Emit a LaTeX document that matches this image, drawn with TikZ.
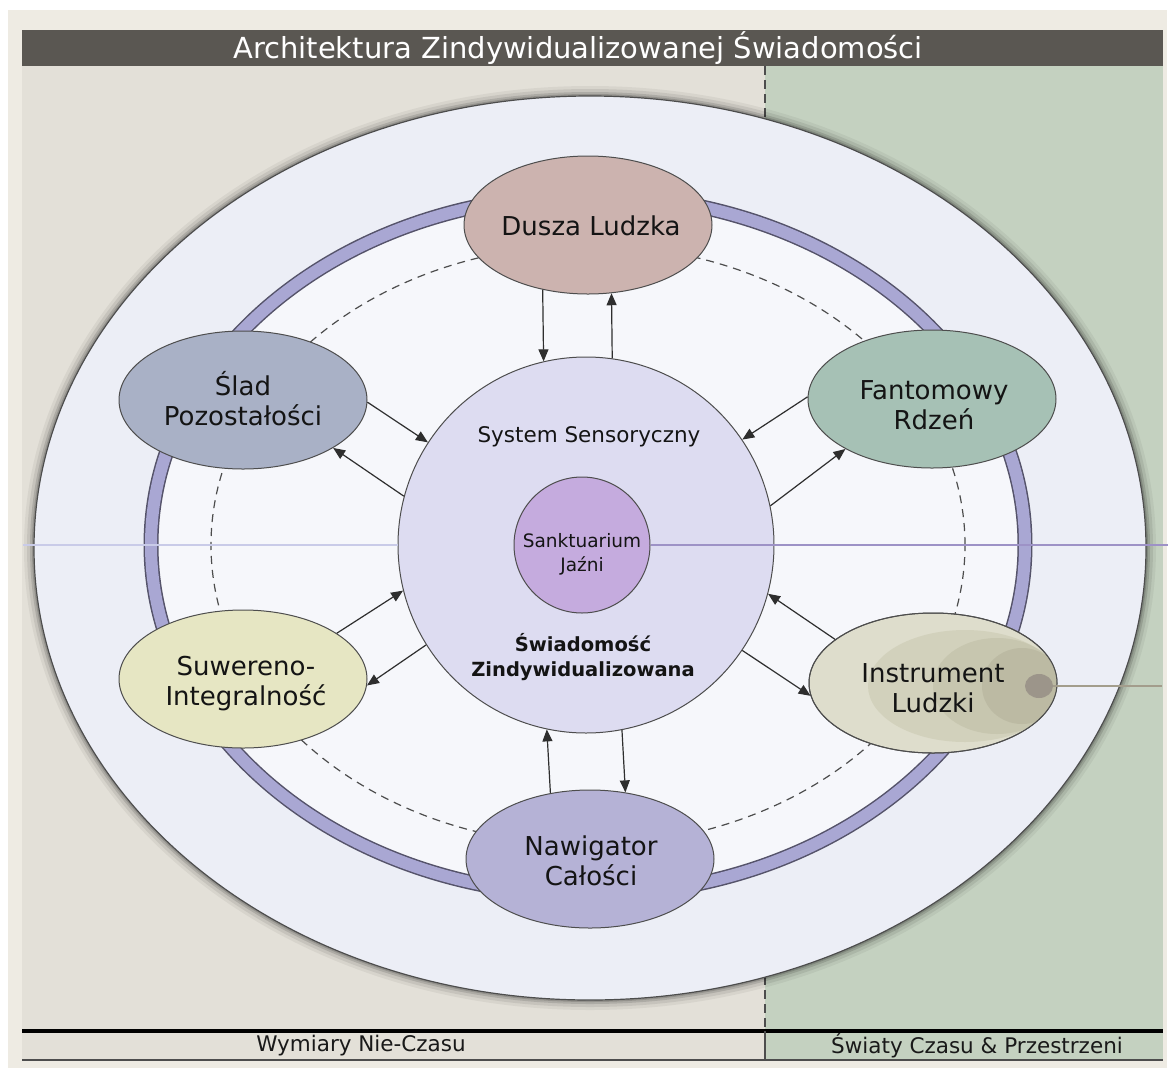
\documentclass[tikz,border=0pt]{standalone}
\usepackage{fontspec}
\setmainfont{DejaVu Sans}
\usetikzlibrary{arrows.meta,shapes.geometric,calc}
\definecolor{titlebar}{HTML}{5A5752}
\definecolor{cardbg}{HTML}{EEEBE3}
\definecolor{leftp}{HTML}{E3E0D8}
\definecolor{rightp}{HTML}{C4D1C0}
\definecolor{outerell}{HTML}{ECEEF6}
\definecolor{innerfill}{HTML}{F6F7FB}
\definecolor{ringc}{HTML}{A9A7D3}
\definecolor{ringedge}{HTML}{55536A}
\definecolor{edgec}{HTML}{4D4D4D}
\definecolor{sysc}{HTML}{DDDCF1}
\definecolor{sankc}{HTML}{C5ABDE}
\definecolor{duszac}{HTML}{CCB3AF}
\definecolor{fantc}{HTML}{A6C1B5}
\definecolor{nawc}{HTML}{B5B2D6}
\definecolor{suwc}{HTML}{E6E6C3}
\definecolor{sladc}{HTML}{A9B1C6}
\definecolor{instc}{HTML}{DEDDCC}
\definecolor{instca}{HTML}{D2D1BC}
\definecolor{instcb}{HTML}{C7C6AF}
\definecolor{instcc}{HTML}{BCBAA3}
\definecolor{dotc}{HTML}{9C958A}
\definecolor{dotline}{HTML}{A39D8C}
\definecolor{hlinel}{HTML}{C9CBE8}
\definecolor{hliner}{HTML}{9D92C6}
\definecolor{arrc}{HTML}{2E2E2E}
\begin{document}
\begin{tikzpicture}[x=1pt,y=-1pt,
  sat/.style={ellipse, draw=edgec, line width=1pt, minimum width=248pt, minimum height=138pt, inner sep=0pt},
  sattext/.style={align=center, text=black!92, inner sep=0pt, font=\fontsize{26}{30}\selectfont},
  systext/.style={align=center, text=black!92, inner sep=0pt},
  arr/.style={draw=arrc, line width=1.2pt, -{Triangle[length=12pt,width=10pt]}},
  lbl/.style={inner sep=0pt, text=black!90, font=\fontsize{21.5}{24}\selectfont}
]
\useasboundingbox (0,0) rectangle (1168,1072);
\fill[white] (0,0) rectangle (1168,1072);
% card
\fill[cardbg] (8,10) rectangle (1167,1068);
\fill[titlebar] (22,30) rectangle (1163,66);
\node[text=white, inner sep=0pt, font=\fontsize{29}{32}\selectfont] (title) at (578,48) {Architektura Zindywidualizowanej Świadomości};
\fill[leftp] (22,66) rectangle (765,1030);
\fill[rightp] (765,66) rectangle (1163,1030);
\draw[edgec, line width=1.2pt, dash pattern=on 9pt off 5pt] (765,66) -- (765,1030);
% bottom band
\fill[leftp] (22,1030) rectangle (765,1060);
\fill[rightp] (765,1030) rectangle (1163,1060);
\draw[black, line width=4pt] (22,1031) -- (1163,1031);
\draw[edgec, line width=1.5pt] (22,1060) -- (1163,1060);
\draw[edgec, line width=1.2pt] (765,1031) -- (765,1060);
\node[lbl] (wym) at (361,1046) {Wymiary Nie-Czasu};
\node[lbl] (swi) at (977,1046) {Światy Czasu \& Przestrzeni};
% outer ellipse with soft shadow
\foreach \s/\o in {10/0.05,7/0.08,4/0.12,2/0.15}{
  \fill[black, opacity=\o] (590,548) ellipse [x radius=556pt+\s pt, y radius=452pt+\s pt];
}
\filldraw[fill=outerell, draw=edgec, line width=1.2pt] (590,548) ellipse [x radius=556pt, y radius=452pt];
% ring
\fill[innerfill] (588,545) ellipse [x radius=437pt, y radius=350pt];
\draw[ringedge, line width=15pt] (588,545) ellipse [x radius=437pt, y radius=350pt];
\draw[ringc, line width=12pt] (588,545) ellipse [x radius=437pt, y radius=350pt];
% dashed ellipse
\draw[edgec, line width=1.2pt, dash pattern=on 8pt off 6pt] (588,545) ellipse [x radius=377pt, y radius=300pt];
% central circles
\node[circle, draw=edgec, line width=1pt, fill=sysc, minimum size=376pt, inner sep=0pt] (sys) at (586,545) {};
\coordinate (lstart) at (23,545);
\draw[hlinel, line width=1.5pt] (lstart) -- (sys.west);
\node[circle, draw=edgec, line width=1pt, fill=sankc, minimum size=136pt, inner sep=0pt] (sank) at (582,545) {};
\coordinate (rend) at (1168,545);
\draw[hliner, line width=1.5pt] (sank.east) -- (rend);
\node[systext, font=\fontsize{21.5}{25}\selectfont] (systxt) at (589,437) {System Sensoryczny};
\node[systext, font=\fontsize{18.5}{24}\selectfont] (sanktxt) at (582,554) {Sanktuarium\\Jaźni};
\node[systext, font=\bfseries\fontsize{19.5}{25}\selectfont] (swtxt) at (583,657) {Świadomość\\Zindywidualizowana};
% satellites
\node[sat, fill=duszac] (dusza) at (588,225) {};
\node[sat, fill=fantc] (fant) at (932,399) {};
\node[sat, fill=instc, minimum height=140pt] (instr) at (933,683) {};
\node[sat, fill=nawc] (nawig) at (590,859) {};
\node[sat, fill=suwc] (suw) at (243,679) {};
\node[sat, fill=sladc] (slad) at (243,400) {};
% instrument shading
\begin{scope}
  \clip (933,683) ellipse [x radius=123.5pt, y radius=69.5pt];
  \fill[instca] (965,686) ellipse [x radius=97pt, y radius=56pt];
  \fill[instcb] (997,686) ellipse [x radius=64pt, y radius=48pt];
  \fill[instcc] (1022,686) ellipse [x radius=40pt, y radius=38pt];
\end{scope}
\draw[edgec, line width=1pt] (instr.center) ellipse [x radius=124pt, y radius=70pt];
\node[ellipse, fill=dotc, minimum width=28pt, minimum height=24pt, inner sep=0pt] (dot) at (1039,686) {};
\coordinate (dotend) at (1162,686);
\draw[dotline, line width=2pt] (dot.east) -- (dotend);
% satellite texts
\node[sattext] (duszat) at (591,226) {Dusza Ludzka};
\node[sattext] (fantt) at (934,405) {Fantomowy\\Rdzeń};
\node[sattext] (instrt) at (933,688) {Instrument\\Ludzki};
\node[sattext] (nawigt) at (591,861) {Nawigator\\Całości};
\node[sattext] (suwt) at (246,684) {Suwereno-\\Integralność};
\node[sattext] (sladt) at (243,399) {Ślad\\Pozostałości};
% arrows
\draw[arr] (dusza.235) -- (sys.103.2);
\draw[arr] (sys.82.05) -- (dusza.289.5);
\draw[arr] (nawig.121.5) -- (sys.258.96);
\draw[arr] (sys.281.97) -- (nawig.62.1);
\draw[arr] (slad.-1.4) -- (sys.147.4);
\draw[arr] (sys.165.1) -- (slad.-28.6);
\draw[arr] (fant.179) -- (sys.34.3);
\draw[arr] (sys.12.9) -- (fant.210.4);
\draw[arr] (suw.26.1) -- (sys.194.7);
\draw[arr] (sys.212.4) -- (suw.-3.7);
\draw[arr] (instr.156.3) -- (sys.-15.6);
\draw[arr] (sys.-34.7) -- (instr.186.5);
\end{tikzpicture}
\end{document}
